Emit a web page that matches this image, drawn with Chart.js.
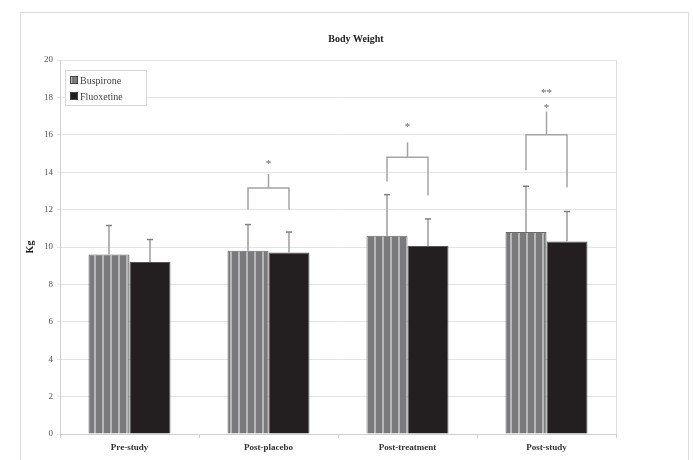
<!DOCTYPE html>
<html>
<head>
<meta charset="utf-8">
<script src="https://cdn.jsdelivr.net/npm/chart.js@4"></script>
<style>
  html, body { margin: 0; padding: 0; background: #fff; }
</style>
</head>
<body>
<canvas id="chart" width="693" height="460"></canvas>
<script>
const categories = ["Pre-study", "Post-placebo", "Post-treatment", "Post-study"];
const buspirone = [9.6, 9.8, 10.6, 10.8];
const fluoxetine = [9.2, 9.7, 10.05, 10.3];
const buspironeSD = [1.55, 1.4, 2.2, 2.45];
const fluoxetineSD = [1.2, 1.1, 1.45, 1.6];

// significance brackets (kg), null = no bracket
const bracketLeftFrom = [null, 12.0, 13.5, 14.1];
const bracketRightFrom = [null, 12.0, 12.75, 13.2];
const bracketTop = [null, 13.15, 14.8, 16.0];
const bracketStem = [null, 13.9, 15.6, 17.25];
const sigMark = ["", "*", "*", "*"];
const sigMarkY = [null, 14.6, 16.55, 17.6];
const sigMark2 = ["", "", "", "**"];
const sigMark2Y = [null, null, null, 18.4];

const serif = "'Liberation Serif', 'DejaVu Serif', serif";

// striped fill for Buspirone
function stripes() {
  let c = document.createElement("canvas");
  c.width = 8;
  c.height = 8;
  let g = c.getContext("2d");
  g.fillStyle = "#7a7a7c";
  g.fillRect(0, 0, 8, 8);
  g.fillStyle = "#b8b8ba";
  g.fillRect(6, 0, 2, 8);
  return g.createPattern(c, "repeat");
}

let ctx = document.getElementById("chart").getContext("2d");
let buspFill = stripes();

const extras = {
  id: "extras",
  beforeDraw(chart) {
    let c = chart.ctx;
    c.save();
    c.fillStyle = "#fff";
    c.fillRect(0, 0, chart.width, chart.height);
    c.strokeStyle = "#dcdcdc";
    c.lineWidth = 1;
    c.strokeRect(20.5, 12.5, 668, 470);
    c.fillStyle = "#222";
    c.font = "bold 10px " + serif;
    c.textAlign = "center";
    c.textBaseline = "middle";
    c.fillText("Body Weight", 356, 39);
    c.restore();
  },
  afterDatasetsDraw(chart) {
    let c = chart.ctx;
    let y = chart.scales.y;
    let area = chart.chartArea;
    c.save();
    // plot right edge
    c.strokeStyle = "#dedede";
    c.lineWidth = 1;
    c.beginPath();
    c.moveTo(Math.round(area.right) + 0.5, area.top);
    c.lineTo(Math.round(area.right) + 0.5, area.bottom);
    c.stroke();

    // error bars
    let sds = [buspironeSD, fluoxetineSD];
    chart.data.datasets.forEach((ds, di) => {
      chart.getDatasetMeta(di).data.forEach((bar, i) => {
        let top = y.getPixelForValue(ds.data[i] + sds[di][i]);
        c.strokeStyle = "#b4b4b4";
        c.lineWidth = 2;
        c.beginPath();
        c.moveTo(bar.x, bar.y);
        c.lineTo(bar.x, top);
        c.stroke();
        c.strokeStyle = "#808080";
        c.lineWidth = 1.5;
        c.beginPath();
        c.moveTo(bar.x - 3, top);
        c.lineTo(bar.x + 3, top);
        c.stroke();
      });
    });

    // brackets
    let b = chart.getDatasetMeta(0).data;
    let f = chart.getDatasetMeta(1).data;
    c.strokeStyle = "#a4a4a4";
    c.lineWidth = 1.5;
    c.fillStyle = "#666";
    c.font = "11px " + serif;
    c.textAlign = "center";
    c.textBaseline = "middle";
    categories.forEach((cat, i) => {
      if (bracketTop[i] === null) return;
      let xl = b[i].x;
      let xr = f[i].x;
      let xm = chart.scales.x.getPixelForValue(i);
      let yt = y.getPixelForValue(bracketTop[i]);
      c.beginPath();
      c.moveTo(xl, y.getPixelForValue(bracketLeftFrom[i]));
      c.lineTo(xl, yt);
      c.lineTo(xr, yt);
      c.lineTo(xr, y.getPixelForValue(bracketRightFrom[i]));
      c.moveTo(xm, yt);
      c.lineTo(xm, y.getPixelForValue(bracketStem[i]));
      c.stroke();
      if (sigMark[i]) c.fillText(sigMark[i], xm, y.getPixelForValue(sigMarkY[i]) + 3);
      if (sigMark2[i]) c.fillText(sigMark2[i], xm, y.getPixelForValue(sigMark2Y[i]) + 3);
    });

    // legend box
    let lx = area.left + 5;
    let ly = area.top + 10;
    c.fillStyle = "#fff";
    c.fillRect(lx, ly, 81, 35);
    c.strokeStyle = "#d8d8d8";
    c.lineWidth = 1;
    c.strokeRect(lx + 0.5, ly + 0.5, 81, 35);
    c.font = "10px " + serif;
    c.textAlign = "left";
    chart.data.datasets.forEach((ds, di) => {
      let yy = ly + 10 + di * 16;
      c.fillStyle = ds.backgroundColor;
      c.fillRect(lx + 5, yy - 4, 8, 8);
      c.strokeStyle = "#444";
      c.strokeRect(lx + 5.5, yy - 3.5, 7, 7);
      c.fillStyle = "#444";
      c.fillText(ds.label, lx + 15, yy + 1);
    });
    c.restore();
  },
};

let chart = new Chart(ctx, {
  type: "bar",
  data: {
    labels: categories,
    datasets: [
      {
        label: "Buspirone",
        data: buspirone,
        backgroundColor: buspFill,
        borderColor: "#6a6a6a",
        borderWidth: 1,
      },
      {
        label: "Fluoxetine",
        data: fluoxetine,
        backgroundColor: "#231f20",
        borderColor: "#555",
        borderWidth: 1,
      },
    ],
  },
  options: {
    responsive: false,
    animation: false,
    devicePixelRatio: 1,
    layout: { padding: { left: 20, right: 77, top: 60, bottom: 0 } },
    datasets: {
      bar: { categoryPercentage: 0.59, barPercentage: 1 },
    },
    plugins: {
      legend: { display: false },
      title: { display: false },
      tooltip: { enabled: false },
    },
    scales: {
      x: {
        afterFit: (s) => { s.height = 26; },
        grid: { drawOnChartArea: false, tickLength: 4, color: "#d0d0d0" },
        border: { color: "#d0d0d0" },
        ticks: { color: "#333", font: { family: serif, size: 9, weight: "bold" }, padding: 4 },
      },
      y: {
        min: 0,
        max: 20,
        afterFit: (s) => { s.width = 40; },
        ticks: { stepSize: 2, color: "#555", font: { family: serif, size: 9 }, padding: 4 },
        grid: { color: "#e4e4e4", tickLength: 3 },
        border: { color: "#d0d0d0" },
        title: {
          display: true,
          text: "Kg",
          color: "#222",
          font: { family: serif, size: 10, weight: "bold" },
          padding: { top: 4, bottom: 0 },
        },
      },
    },
  },
  plugins: [extras],
});
</script>
</body>
</html>
